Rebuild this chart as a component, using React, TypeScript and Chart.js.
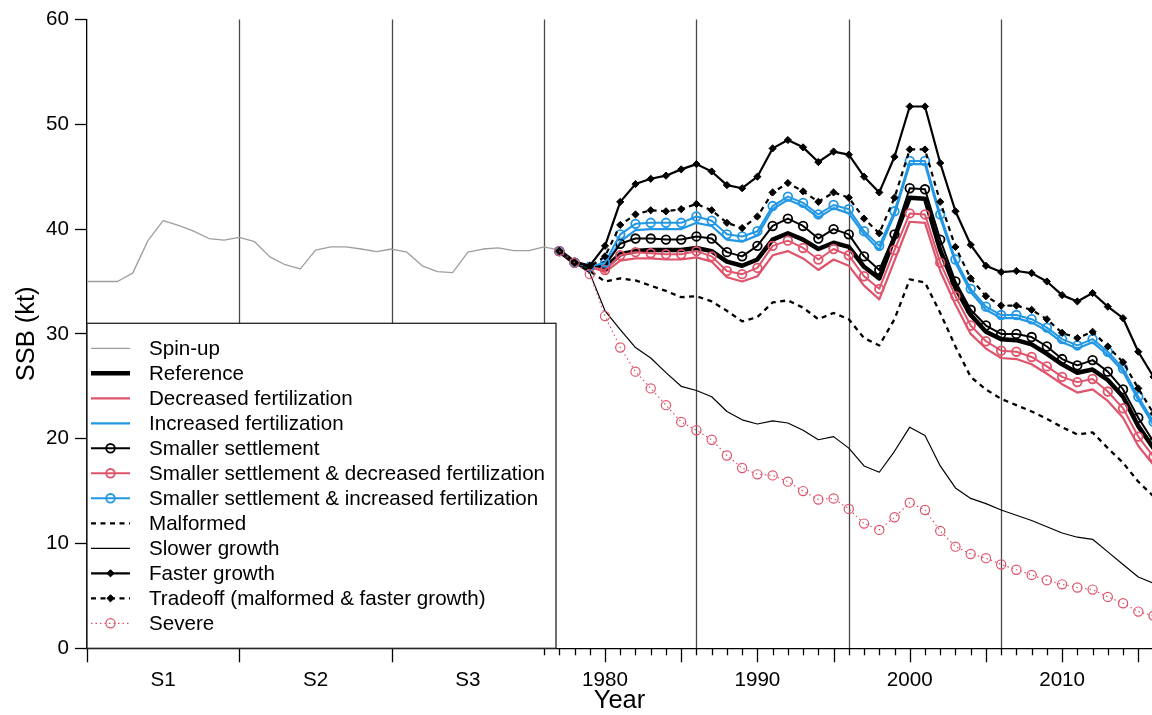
import { useEffect, useRef } from 'react';
import { Chart, registerables } from 'chart.js';

Chart.register(...registerables);

// ---------- data ----------
const spinupYears = [
  1946, 1947, 1948, 1949, 1950, 1951, 1952, 1953, 1954, 1955, 1956, 1957, 1958, 1959, 1960, 1961,
  1962, 1963, 1964, 1965, 1966, 1967, 1968, 1969, 1970, 1971, 1972, 1973, 1974, 1975, 1976, 1977,
];
const spinupSSB = [
  35.0, 35.0, 35.0, 35.8, 38.9, 40.8, 40.35, 39.8, 39.1, 38.95, 39.2, 38.8, 37.35, 36.6, 36.2, 38.0,
  38.3, 38.3, 38.1, 37.85, 38.1, 37.8, 36.5, 35.95, 35.85, 37.8, 38.1, 38.2, 37.95, 37.95, 38.3, 38.0,
];

const scenarioYears = [
  1977, 1978, 1979, 1980, 1981, 1982, 1983, 1984, 1985, 1986, 1987, 1988, 1989, 1990, 1991, 1992,
  1993, 1994, 1995, 1996, 1997, 1998, 1999, 2000, 2001, 2002, 2003, 2004, 2005, 2006, 2007, 2008,
  2009, 2010, 2011, 2012, 2013, 2014, 2015, 2016,
];

const reference = [
  37.9, 36.8, 36.4, 36.3, 37.6, 37.9, 38.0, 38.0, 38.0, 38.2, 37.9, 36.9, 36.5, 37.1, 39.0, 39.6,
  39.0, 38.1, 38.7, 38.3, 36.4, 35.3, 39.2, 43.0, 42.9, 38.0, 34.4, 31.8, 30.2, 29.5, 29.4, 29.0,
  28.1, 27.1, 26.3, 26.6, 25.6, 24.0, 21.2, 19.1,
];
const decreasedFert = [
  37.9, 36.8, 36.4, 35.9, 37.0, 37.2, 37.2, 37.1, 37.1, 37.3, 36.9, 35.4, 35.0, 35.5, 37.5, 37.9,
  37.2, 36.1, 37.1, 36.5, 34.6, 33.3, 37.0, 40.7, 40.6, 36.0, 32.8, 30.0, 28.6, 27.7, 27.6, 27.1,
  26.2, 25.2, 24.4, 24.7, 23.6, 22.0, 19.3, 17.5,
];
const increasedFert = [
  37.9, 36.8, 36.4, 36.6, 38.8, 39.9, 40.0, 40.0, 40.0, 40.6, 40.3, 39.0, 38.8, 39.4, 41.9, 42.8,
  42.2, 41.1, 42.0, 41.5, 39.5, 38.0, 41.4, 46.2, 46.2, 41.1, 36.8, 34.0, 32.3, 31.5, 31.5, 31.1,
  30.3, 29.2, 28.6, 29.2, 28.0, 26.4, 23.7, 21.3,
];
const smallerSettlement = [
  37.9, 36.8, 36.4, 36.5, 38.6, 39.1, 39.1, 39.0, 39.0, 39.3, 39.1, 37.8, 37.4, 38.4, 40.3, 41.0,
  40.3, 39.1, 40.0, 39.5, 37.4, 36.1, 39.5, 43.9, 43.8, 39.0, 35.0, 32.3, 30.8, 30.0, 30.0, 29.7,
  28.8, 27.6, 27.0, 27.5, 26.4, 24.7, 22.0, 19.7,
];
const smallerDecreased = [
  37.9, 36.8, 36.4, 36.1, 37.5, 37.8, 37.7, 37.6, 37.6, 37.9, 37.4, 36.0, 35.7, 36.3, 38.4, 38.9,
  38.2, 37.1, 38.1, 37.5, 35.5, 34.3, 38.0, 41.5, 41.4, 36.8, 33.6, 30.8, 29.3, 28.4, 28.3, 27.8,
  26.9, 25.9, 25.4, 25.7, 24.5, 22.9, 20.2, 18.3,
];
const smallerIncreased = [
  37.9, 36.8, 36.4, 36.8, 39.5, 40.5, 40.6, 40.6, 40.6, 41.2, 40.8, 39.5, 39.3, 39.8, 42.2, 43.1,
  42.5, 41.4, 42.3, 41.9, 39.8, 38.4, 41.7, 46.5, 46.5, 41.4, 37.1, 34.3, 32.6, 31.8, 31.8, 31.4,
  30.6, 29.5, 28.9, 29.5, 28.3, 26.7, 24.0, 21.6,
];
const malformed = [
  37.9, 36.8, 36.0, 35.0, 35.3, 35.1, 34.6, 34.1, 33.5, 33.6, 33.1, 32.2, 31.2, 31.6, 33.0, 33.2,
  32.5, 31.4, 32.0, 31.4, 29.6, 28.9, 31.4, 35.2, 34.9, 32.0, 28.8, 25.9, 24.7, 23.8, 23.2, 22.6,
  21.9, 21.1, 20.4, 20.6, 19.1, 17.7, 15.9, 14.5,
];
const slowerGrowth = [
  37.9, 36.8, 35.8, 32.2, 30.4, 28.7, 27.7, 26.3, 25.0, 24.6, 24.0, 22.6, 21.8, 21.4, 21.7, 21.5,
  20.8, 19.9, 20.2, 19.1, 17.4, 16.8, 18.8, 21.1, 20.3, 17.4, 15.3, 14.3, 13.8, 13.2, 12.7, 12.2,
  11.6, 11.0, 10.6, 10.4, 9.2, 8.0, 6.8, 6.2,
];
const fasterGrowth = [
  37.9, 36.8, 36.5, 38.4, 42.6, 44.3, 44.8, 45.1, 45.7, 46.2, 45.5, 44.2, 43.9, 45.0, 47.7, 48.5,
  47.8, 46.4, 47.4, 47.1, 45.0, 43.5, 46.9, 51.7, 51.7, 46.3, 41.7, 38.5, 36.5, 35.9, 36.0, 35.8,
  35.0, 33.7, 33.1, 33.9, 32.6, 31.5, 28.3, 25.9,
];
const tradeoff = [
  37.9, 36.8, 36.4, 37.4, 40.4, 41.4, 41.8, 41.7, 41.9, 42.4, 41.8, 40.6, 40.1, 41.2, 43.5, 44.4,
  43.6, 42.6, 43.5, 43.0, 41.0, 39.6, 43.0, 47.6, 47.6, 42.6, 38.3, 35.3, 33.6, 32.7, 32.7, 32.3,
  31.4, 30.1, 29.6, 30.2, 28.8, 27.3, 24.8, 22.4,
];
const severe = [
  37.9, 36.8, 35.7, 31.7, 28.7, 26.4, 24.8, 23.2, 21.6, 20.8, 19.9, 18.4, 17.2, 16.6, 16.5, 15.9,
  15.0, 14.2, 14.3, 13.3, 11.9, 11.3, 12.5, 13.9, 13.2, 11.2, 9.7, 9.0, 8.6, 8.0, 7.5, 7.0,
  6.5, 6.1, 5.8, 5.6, 4.9, 4.3, 3.5, 3.1,
];

// axis ticks / labels
const xTickValues = [1951, 1961, 1971, 1980, 1990, 2000, 2010];
const xTickLabels = ['S1', 'S2', 'S3', '1980', '1990', '2000', '2010'];
const periodBoundaries = [1956, 1966, 1976, 1986, 1996, 2006];
const longTickYears = [1946, 1956, 1966, 1980, 1985, 1990, 1995, 2000, 2005, 2010, 2015];
const yearTickYears = [1976, ...scenarioYears];

// ---------- styles ----------
const BLACK = '#000000';
const RED = '#DF536B';
const BLUE = '#2297E6';
const GRAY = '#9E9E9E';
const FONT = '"Liberation Sans", Arial, Helvetica, sans-serif';
const TEXT_SIZE = 20.6;

type Def = {
  label: string;
  years: number[];
  values: number[];
  color: string;
  width: number;
  dash?: number[];
  point?: 'circle' | 'rectRot';
  radius?: number;
  pointWidth?: number;
  filled?: boolean;
};

const defs: Def[] = [
  { label: 'Spin-up', years: spinupYears, values: spinupSSB, color: GRAY, width: 1.3 },
  { label: 'Reference', years: scenarioYears, values: reference, color: BLACK, width: 4.5 },
  { label: 'Decreased fertilization', years: scenarioYears, values: decreasedFert, color: RED, width: 2.2 },
  { label: 'Increased fertilization', years: scenarioYears, values: increasedFert, color: BLUE, width: 2.2 },
  { label: 'Smaller settlement', years: scenarioYears, values: smallerSettlement, color: BLACK, width: 2, point: 'circle', radius: 4.3, pointWidth: 1.8 },
  { label: 'Smaller settlement & decreased fertilization', years: scenarioYears, values: smallerDecreased, color: RED, width: 2, point: 'circle', radius: 4.3, pointWidth: 1.8 },
  { label: 'Smaller settlement & increased fertilization', years: scenarioYears, values: smallerIncreased, color: BLUE, width: 2, point: 'circle', radius: 4.3, pointWidth: 1.8 },
  { label: 'Malformed', years: scenarioYears, values: malformed, color: BLACK, width: 2.3, dash: [5, 4.5] },
  { label: 'Slower growth', years: scenarioYears, values: slowerGrowth, color: BLACK, width: 1.2 },
  { label: 'Faster growth', years: scenarioYears, values: fasterGrowth, color: BLACK, width: 2.2, point: 'rectRot', radius: 3.6, pointWidth: 1, filled: true },
  { label: 'Tradeoff (malformed & faster growth)', years: scenarioYears, values: tradeoff, color: BLACK, width: 2.2, dash: [5, 4.5], point: 'rectRot', radius: 3.6, pointWidth: 1, filled: true },
  { label: 'Severe', years: scenarioYears, values: severe, color: RED, width: 1.2, dash: [1.5, 3], point: 'circle', radius: 4.6, pointWidth: 1.2 },
];

function drawMarker(ctx: CanvasRenderingContext2D, d: Def, x: number, y: number) {
  if (!d.point) return;
  const r = d.radius || 4;
  ctx.save();
  ctx.setLineDash([]);
  ctx.lineWidth = d.pointWidth || 1;
  ctx.strokeStyle = d.color;
  ctx.fillStyle = d.color;
  ctx.beginPath();
  if (d.point === 'circle') {
    ctx.arc(x, y, r, 0, Math.PI * 2);
  } else {
    ctx.moveTo(x - r, y);
    ctx.lineTo(x, y - r);
    ctx.lineTo(x + r, y);
    ctx.lineTo(x, y + r);
    ctx.closePath();
  }
  if (d.filled) ctx.fill();
  ctx.stroke();
  ctx.restore();
}

const decorPlugin = {
  id: 'decor',
  beforeDatasetsDraw(chart: any) {
    const { ctx, chartArea, scales } = chart;
    const x = scales.x;
    ctx.save();
    ctx.strokeStyle = '#4a4a4a';
    ctx.lineWidth = 1.3;
    for (const yr of periodBoundaries) {
      const px = Math.round(x.getPixelForValue(yr)) + 0.5;
      ctx.beginPath();
      ctx.moveTo(px, chartArea.top);
      ctx.lineTo(px, chartArea.bottom);
      ctx.stroke();
    }
    ctx.restore();
  },
  afterDraw(chart: any) {
    const { ctx, chartArea, scales } = chart;
    const x = scales.x;
    // tick marks on x axis
    ctx.save();
    ctx.strokeStyle = '#000';
    ctx.lineWidth = 1.3;
    const ticks = new Set<number>([...longTickYears, ...yearTickYears]);
    ticks.forEach((yr) => {
      const px = Math.round(x.getPixelForValue(yr)) + 0.5;
      if (px > chartArea.right + 1) return;
      const len = longTickYears.includes(yr) ? 14 : 7;
      ctx.beginPath();
      ctx.moveTo(px, chartArea.bottom);
      ctx.lineTo(px, chartArea.bottom + len);
      ctx.stroke();
    });
    ctx.restore();

    // legend box
    const left = chartArea.left;
    const bottom = chartArea.bottom;
    const right = 556;
    const top = 323.3;
    ctx.save();
    ctx.fillStyle = '#ffffff';
    ctx.fillRect(left, top, right - left, bottom - top);
    ctx.strokeStyle = '#222';
    ctx.lineWidth = 1.3;
    ctx.strokeRect(left, top, right - left, bottom - top);
    ctx.font = `${TEXT_SIZE}px ${FONT}`;
    ctx.textBaseline = 'middle';
    ctx.textAlign = 'left';
    defs.forEach((d, i) => {
      const y = top + 25 + 25 * i;
      ctx.save();
      ctx.strokeStyle = d.color;
      ctx.lineWidth = d.width;
      ctx.setLineDash(d.dash || []);
      ctx.beginPath();
      ctx.moveTo(left + 4, y);
      ctx.lineTo(left + 43, y);
      ctx.stroke();
      ctx.restore();
      drawMarker(ctx, d, left + 23.5, y);
      ctx.fillStyle = '#000';
      ctx.fillText(d.label, left + 62, y + 1);
    });
    ctx.restore();
  },
};

export default function App() {
  const canvasRef = useRef<HTMLCanvasElement>(null);

  useEffect(() => {
    if (!canvasRef.current) return;
    Chart.defaults.font.family = FONT;
    const datasets = defs.map((d, i) => ({
      label: d.label,
      data: d.years.map((yr, k) => ({ x: yr, y: d.values[k] })),
      borderColor: d.color,
      backgroundColor: d.color,
      borderWidth: d.width,
      borderDash: d.dash || [],
      borderCapStyle: 'butt' as const,
      borderJoinStyle: 'round' as const,
      tension: 0,
      fill: false,
      pointStyle: d.point || 'circle',
      pointRadius: d.point ? d.radius : 0,
      pointHoverRadius: d.point ? d.radius : 0,
      pointBorderWidth: d.pointWidth || 1,
      pointBorderColor: d.color,
      pointBackgroundColor: d.filled ? d.color : 'rgba(0,0,0,0)',
      order: -i,
    }));

    const chart = new Chart(canvasRef.current, {
      type: 'line',
      data: { datasets },
      plugins: [decorPlugin],
      options: {
        responsive: false,
        devicePixelRatio: 1,
        animation: false,
        events: [],
        layout: { autoPadding: false, padding: { top: 19.5, right: 0, bottom: 0, left: 0 } },
        plugins: {
          legend: { display: false },
          tooltip: { enabled: false },
        },
        scales: {
          x: {
            type: 'linear',
            min: 1946,
            max: 2015.9,
            afterBuildTicks: (s: any) => {
              s.ticks = xTickValues.map((v) => ({ value: v }));
            },
            afterFit: (s: any) => {
              s.height = 66.7;
            },
            ticks: {
              autoSkip: false,
              maxRotation: 0,
              minRotation: 0,
              color: '#000',
              font: { size: TEXT_SIZE },
              padding: 19.5,
              callback: (v: any) => {
                const idx = xTickValues.indexOf(Number(v));
                return idx >= 0 ? xTickLabels[idx] : '';
              },
            },
            grid: { display: true, drawOnChartArea: false, drawTicks: false },
            border: { display: true, color: '#000', width: 1.3 },
            title: {
              display: true,
              text: 'Year',
              color: '#000',
              font: { size: 25.5, lineHeight: 1 },
              padding: { top: 0, bottom: 1.5 },
            },
          },
          y: {
            min: 0,
            max: 60,
            afterFit: (s: any) => {
              s.width = 87;
            },
            ticks: { stepSize: 10, color: '#000', font: { size: TEXT_SIZE }, padding: 6 },
            grid: { drawOnChartArea: false, drawTicks: true, tickLength: 12, tickColor: '#000', tickWidth: 1.3 },
            border: { display: true, color: '#000', width: 1.3 },
            title: {
              display: true,
              text: 'SSB (kt)',
              color: '#000',
              font: { size: 25.5, lineHeight: 1 },
              padding: { top: 14, bottom: 0 },
            },
          },
        },
      },
    });
    return () => chart.destroy();
  }, []);

  return (
    <div style={{ position: 'absolute', left: 0, top: 0, width: 1152, height: 715, background: '#fff' }}>
      <canvas ref={canvasRef} width={1152} height={715} style={{ display: 'block', width: 1152, height: 715 }} />
    </div>
  );
}
